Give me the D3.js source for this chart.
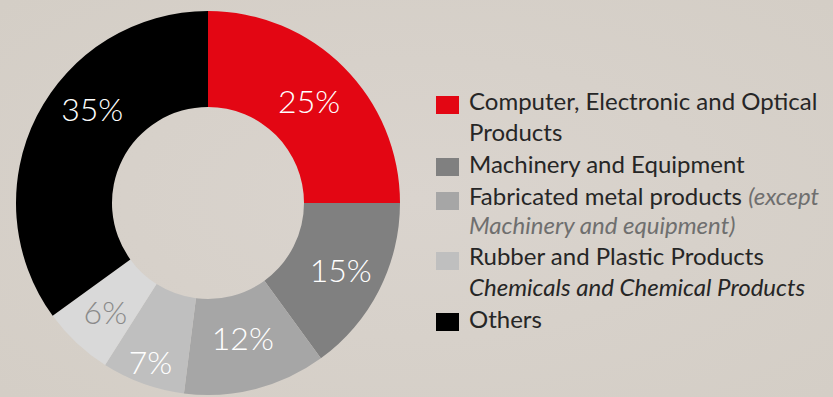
<!DOCTYPE html>
<html><head><meta charset="utf-8">
<script src="https://cdn.jsdelivr.net/npm/d3@7"></script>
<style>
html,body{margin:0;padding:0;}
body{width:833px;height:397px;overflow:hidden;background:#d7d1ca;}
</style></head>
<body>
<svg id="c" width="833" height="397"></svg>
<script>
const categories = ["Computer, Electronic and Optical Products","Machinery and Equipment","Fabricated metal products (except Machinery and equipment)","Rubber and Plastic Products","Chemicals and Chemical Products","Others"];
const values = [25, 15, 12, 7, 6, 35];
const labels = ["25%","15%","12%","7%","6%","35%"];
const colors = ["#e30613","#808080","#a6a6a6","#bfbfbf","#d9d9d9","#000000"];
const labelColors = ["#ffffff","#ffffff","#ffffff","#ffffff","#8a8a8a","#ffffff"];

const svg = d3.select("#c");
const defs = svg.append("defs");
const g1 = defs.append("radialGradient").attr("id","bg").attr("cx","50%").attr("cy","50%").attr("r","70%");
g1.append("stop").attr("offset","0%").attr("stop-color","#dad4ce");
g1.append("stop").attr("offset","100%").attr("stop-color","#d4cec6");
svg.append("rect").attr("width",833).attr("height",397).attr("fill","url(#bg)");

const cx = 208, cy = 203, rOuter = 192, rInner = 96;
const pie = d3.pie().sort(null).value(d => d)(values);
const arc = d3.arc().innerRadius(rInner).outerRadius(rOuter);
const g = svg.append("g").attr("transform",`translate(${cx},${cy})`);
g.selectAll("path").data(pie).join("path").attr("d",arc).attr("fill",(d,i)=>colors[i]);

// label placement: radius and angle shift tweaks (layout, not data)
const lblR = [143,149,140,170,150,149];
const lblShift = [0,0,0,0,0,0.21];
g.selectAll("text.lbl").data(pie).join("text").attr("class","lbl")
  .attr("transform",(d,i)=>{
    const a = (d.startAngle+d.endAngle)/2 + lblShift[i];
    return `translate(${lblR[i]*Math.sin(a)},${-lblR[i]*Math.cos(a)})`;
  })
  .attr("text-anchor","middle").attr("dy","0.36em")
  .attr("font-family","Lato, 'Open Sans', sans-serif").attr("font-weight",300)
  .attr("font-size",32).attr("fill",(d,i)=>labelColors[i]).text((d,i)=>labels[i]);

// legend
const lg = svg.append("g").attr("font-family","Lato, 'Noto Sans', sans-serif").attr("font-size",24).attr("fill","#262626");
const sw = [{c:0,y:96},{c:1,y:158},{c:2,y:192},{c:3,y:252},{c:5,y:313}];
lg.selectAll("rect").data(sw).join("rect").attr("x",436).attr("y",d=>d.y).attr("width",23).attr("height",18).attr("fill",d=>colors[d.c]);
const lines = [
  {y:110, parts:[{t:"Computer, Electronic and Optical"}]},
  {y:141, parts:[{t:"Products"}]},
  {y:173, parts:[{t:"Machinery and Equipment"}]},
  {y:205, parts:[{t:"Fabricated metal products "},{t:"(except",i:true,c:"#6f6f6f"}]},
  {y:234, parts:[{t:"Machinery and equipment)",i:true,c:"#6f6f6f"}]},
  {y:265, parts:[{t:"Rubber and Plastic Products"}]},
  {y:296, parts:[{t:"Chemicals and Chemical Products",i:true}]},
  {y:328, parts:[{t:"Others"}]}
];
lines.forEach(l=>{
  const t = lg.append("text").attr("x",469).attr("y",l.y);
  l.parts.forEach(p=>{
    const s = t.append("tspan").text(p.t);
    if(p.i) s.attr("font-style","italic");
    if(p.c) s.attr("fill",p.c);
  });
});
</script>
</body></html>
